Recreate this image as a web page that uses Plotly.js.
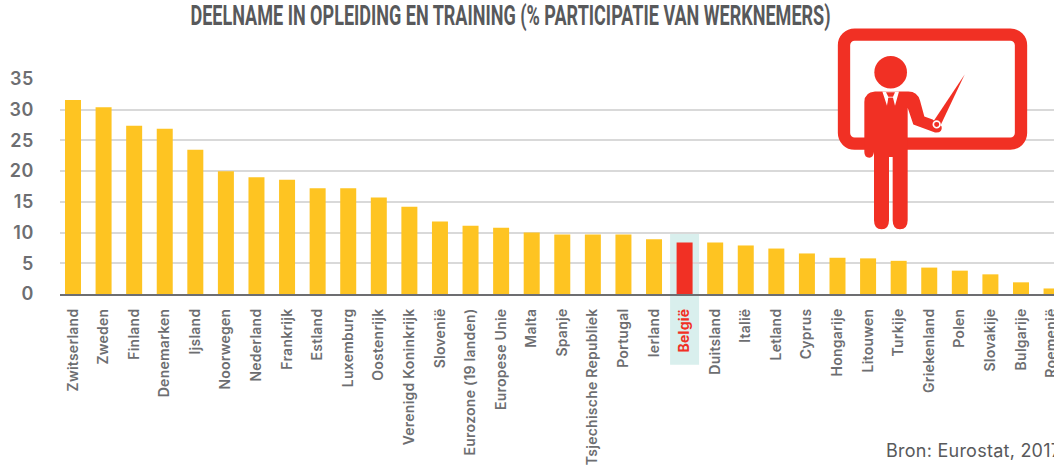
<!DOCTYPE html>
<html>
<head>
<meta charset="utf-8">
<script src="https://cdn.plot.ly/plotly-3.0.1.min.js"></script>
<style>
html,body{margin:0;padding:0;background:#fff;overflow:hidden}
#chart{width:1054px;height:469px}
.xtick text{letter-spacing:.25px}
.ytick text{letter-spacing:.6px}
.annotation-text{letter-spacing:.25px}
</style>
</head>
<body>
<div id="chart"></div>
<script>
const categories = ["Zwitserland","Zweden","Finland","Denemarken","Ijsland","Noorwegen","Nederland","Frankrijk","Estland","Luxemburg","Oostenrijk","Verenigd Koninkrijk","Slovenië","Eurozone (19 landen)","Europese Unie","Malta","Spanje","Tsjechische Republiek","Portugal","Ierland","België","Duitsland","Italië","Letland","Cyprus","Hongarije","Litouwen","Turkije","Griekenland","Polen","Slovakije","Bulgarije","Roemenië"];
const participation = [31.6,30.4,27.4,26.9,23.5,20,19,18.6,17.2,17.2,15.7,14.2,11.8,11.1,10.8,10,9.7,9.7,9.7,8.9,8.4,8.4,7.9,7.4,6.6,5.9,5.8,5.4,4.3,3.8,3.2,1.9,0.9];
const yTicks = [0,5,10,15,20,25,30,35];
const highlight = "België";
const titleText = "DEELNAME IN OPLEIDING EN TRAINING (% PARTICIPATIE VAN WERKNEMERS)";
const sourceText = "Bron: Eurostat, 2017";

const YELLOW = "#fec422", RED = "#f13024", GREY = "#6d6e71";
const W = 1054, H = 469, L = 60, T = 78.5, B = 294;
const plotW = W - L, plotH = B - T, step = 30.58;
const px = x => (x - L) / plotW;
const py = y => (B - y) / plotH;

const icon = `<svg xmlns="http://www.w3.org/2000/svg" viewBox="0 0 630 660" width="630" height="660">
<rect x="42" y="42" width="531" height="328" rx="32" fill="#fff" stroke="${RED}" stroke-width="37"/>
<circle cx="182" cy="155" r="49" fill="${RED}"/>
<path fill="${RED}" d="M103,245 Q103,215 135,213 L235,213 Q262,213 270,240 L283,288 L308,297 L335,318 Q338,338 315,336 L250,312 L233,262 L233,600 Q233,627 210,627 Q188,627 188,600 L188,410 L177,410 L177,600 Q177,627 155,627 Q132,627 132,600 L132,395 Q130,412 118,412 Q103,412 103,395 Z"/>
<path fill="#fff" d="M157,213 L207,213 L195,256 L189,232 L175,232 L171,256 Z"/>
<path fill="${RED}" d="M168,215 L195,215 L189,229 L175,229 Z M176,232 L188,232 L191,254 L182,262 L173,254 Z"/>
<path fill="${RED}" d="M404,162 L310,303 L330,318 Z"/>
<circle cx="320" cy="312" r="10" fill="${RED}" stroke="#fff" stroke-width="5"/>
</svg>`;

const trace = {
  type: "bar",
  x: categories,
  y: participation,
  width: 16 / step,
  marker: { color: categories.map(c => c === highlight ? RED : YELLOW), line: { width: 0 } },
  hoverinfo: "x+y"
};

const layout = {
  width: W, height: H,
  margin: { l: L, r: 0, t: T, b: H - B, pad: 0 },
  paper_bgcolor: "#fff", plot_bgcolor: "#fff",
  showlegend: false,
  title: {
    text: titleText,
    font: { family: "Roboto, Liberation Sans, sans-serif", size: 28, color: "#58595b", weight: 700 },
    x: 510.5 / W, xanchor: "center", y: 1 - 15.5 / H, yanchor: "middle"
  },
  xaxis: {
    type: "category", categoryorder: "array", categoryarray: categories,
    range: [-13 / step, plotW / step - 13 / step],
    tickmode: "array", tickvals: categories,
    ticktext: categories.map(c => c === highlight ? `<b><span style="color:${RED}">${c}</span></b>` : c),
    tickangle: -90, ticks: "", ticklabelstandoff: 7,
    tickfont: { family: "Inter, sans-serif", size: 14, color: GREY, weight: 600 },
    showline: true, linecolor: GREY, linewidth: 2, showgrid: false, zeroline: false
  },
  yaxis: {
    range: [0, 35], tickmode: "array", tickvals: yTicks, ticktext: yTicks.map(String),
    ticks: "", ticklabelstandoff: 25,
    tickfont: { family: "Inter, sans-serif", size: 18, color: GREY, weight: 600 },
    showgrid: true, gridcolor: "#d9d9d9", gridwidth: 1.8, zeroline: false, showline: false
  },
  shapes: [{
    type: "rect", layer: "below", xref: "x", yref: "paper",
    x0: categories.indexOf(highlight) - 14.5 / step, x1: categories.indexOf(highlight) + 14.5 / step,
    y0: py(365), y1: py(232),
    fillcolor: "#d9efed", line: { width: 0 }
  }],
  annotations: [{
    text: sourceText, xref: "paper", yref: "paper", showarrow: false,
    x: px(884), xanchor: "left", y: py(451), yanchor: "middle", align: "left",
    font: { family: "Inter, sans-serif", size: 18, color: "#58595b" }
  }],
  images: [{
    source: "data:image/svg+xml;charset=utf-8," + encodeURIComponent(icon),
    xref: "paper", yref: "paper", x: px(830), y: py(20),
    sizex: 210 / plotW, sizey: 220 / plotH, xanchor: "left", yanchor: "top",
    sizing: "stretch", layer: "above"
  }]
};

Plotly.newPlot("chart", [trace], layout, { displayModeBar: false, responsive: false }).then(gd => {
  const t = gd.querySelector(".gtitle");
  if (t) { t.setAttribute("textLength", 640); t.setAttribute("lengthAdjust", "spacingAndGlyphs"); }
});
</script>
</body>
</html>
